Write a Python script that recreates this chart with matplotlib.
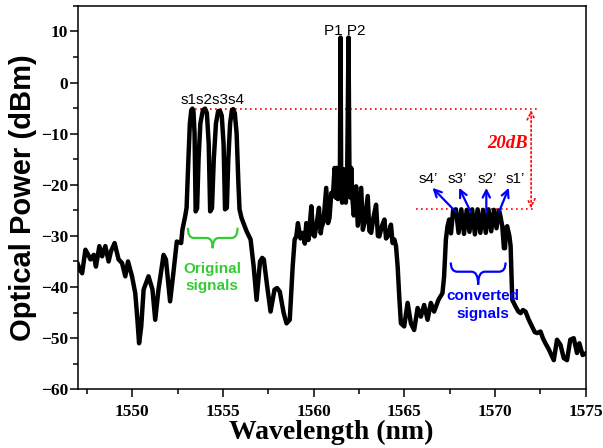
import matplotlib
matplotlib.use("Agg")
import matplotlib.pyplot as plt
from matplotlib.path import Path
from matplotlib.patches import PathPatch
from matplotlib.ticker import MultipleLocator

# spectrum, split into pieces (nm, dBm)
left_wl = [
    1547.0, 1547.1, 1547.24, 1547.42, 1547.55, 1547.70, 1547.88, 1548.0, 1548.19, 1548.34,
    1548.52, 1548.70, 1548.83, 1549.03, 1549.25, 1549.44, 1549.62, 1549.77, 1549.99, 1550.17,
    1550.28, 1550.38, 1550.50, 1550.63, 1550.90, 1551.12, 1551.27, 1551.45, 1551.73, 1551.86,
    1552.09, 1552.27, 1552.46, 1552.70, 1552.77, 1552.92,
]
left_dbm = [
    -35.5, -36.5, -37.3, -32.7, -33.5, -34.6, -33.7, -36.0, -32.0, -34.0,
    -32.0, -35.0, -33.0, -31.4, -34.6, -35.3, -37.9, -35.0, -37.9, -41.2,
    -46.0, -51.0, -47.7, -40.5, -37.9, -40.5, -46.4, -40.5, -33.7, -34.6,
    -42.8, -37.3, -31.1, -31.4, -28.8, -26.2,
]

# original signals s1..s4
signal_wl = [
    1553.00, 1553.10, 1553.18, 1553.26, 1553.32, 1553.38, 1553.44, 1553.50,
    1553.58, 1553.66, 1553.76, 1553.90, 1554.02, 1554.12, 1554.22, 1554.30,
    1554.40, 1554.50, 1554.62, 1554.74, 1554.84, 1554.94, 1555.04, 1555.12,
    1555.22, 1555.30, 1555.40, 1555.50, 1555.57, 1555.66, 1555.76, 1555.86, 1555.92,
]
signal_dbm = [
    -24.5, -15.0, -8.0, -5.4, -5.1, -5.6, -10.0, -25.2,
    -24.6, -15.0, -8.0, -5.4, -5.1, -6.0, -12.0, -25.2,
    -24.6, -15.0, -8.0, -5.6, -5.5, -6.5, -12.0, -24.8,
    -24.5, -15.0, -8.0, -5.4, -5.2, -6.0, -10.0, -20.0, -24.8,
]

gap_wl = [
    1556.03, 1556.31, 1556.53, 1556.70, 1556.86, 1557.05, 1557.17, 1557.26, 1557.45,
    1557.63, 1557.85, 1557.99, 1558.14, 1558.35, 1558.51, 1558.69, 1558.85, 1558.96,
]
gap_dbm = [
    -26.5, -29.1, -30.7, -36.0, -42.5, -35.0, -34.3, -34.6, -40.0,
    -44.8, -40.5, -40.2, -40.9, -45.0, -47.1, -46.4, -36.0, -30.7,
]

# pumps P1, P2 and their skirt
pump_wl = [
    1559.05, 1559.14, 1559.28, 1559.42, 1559.52, 1559.60, 1559.72, 1559.88, 1559.98, 1560.06,
    1560.18, 1560.30, 1560.40, 1560.43, 1560.55, 1560.70, 1560.80, 1560.88, 1560.98, 1561.07,
    1561.16, 1561.22, 1561.28, 1561.34, 1561.40, 1561.45, 1561.49, 1561.53, 1561.58, 1561.63,
    1561.68, 1561.73, 1561.78, 1561.85, 1561.93, 1561.98, 1562.03, 1562.08, 1562.14, 1562.22,
    1562.35, 1562.44, 1562.63, 1562.72, 1562.81, 1562.99, 1563.08, 1563.18, 1563.30, 1563.45,
    1563.55, 1563.63, 1563.78, 1563.91, 1564.0, 1564.09, 1564.27, 1564.36, 1564.46, 1564.55,
]
pump_dbm = [
    -30.1, -27.5, -30.5, -29.4, -31.5, -27.5, -30.8, -24.2, -29.8, -30.1,
    -27.5, -24.5, -29.5, -28.5, -27.2, -20.6, -27.5, -26.5, -21.6, -22.2,
    -16.7, -22.5, -16.7, -22.8, -17.0, -22.0, 8.8, -22.0, -23.5, -17.0,
    -22.5, -17.0, -23.5, -20.0, 8.8, -17.0, -22.5, -16.7, -22.5, -26.0,
    -20.3, -28.0, -20.6, -28.8, -27.5, -22.2, -29.0, -29.4, -26.5, -23.9,
    -30.0, -30.1, -28.0, -26.8, -30.5, -30.1, -27.8, -31.4, -30.7, -32.0,
]

dip_wl = [
    1564.64, 1564.73, 1564.82, 1565.0, 1565.19, 1565.37, 1565.55, 1565.74, 1565.92, 1566.10,
    1566.29, 1566.47, 1566.65, 1566.89, 1567.11, 1567.20, 1567.30, 1567.39, 1567.48, 1567.58,
    1567.70,
]
dip_dbm = [
    -36.0, -42.0, -47.1, -47.7, -43.1, -47.1, -48.4, -44.1, -45.8, -43.5,
    -46.4, -43.1, -44.8, -42.5, -41.2, -38.0, -30.7, -28.1, -26.8, -29.5,
    -25.0,
]

# converted signals (idler ripple)
converted_wl = [
    1567.85, 1568.0, 1568.15, 1568.30, 1568.45, 1568.60, 1568.75, 1568.90, 1569.05, 1569.20,
    1569.35, 1569.50, 1569.65, 1569.80, 1569.95, 1570.09, 1570.23,
]
converted_dbm = [
    -24.8, -29.4, -24.8, -29.6, -24.9, -29.2, -24.8, -29.7, -24.8, -29.4,
    -24.9, -29.4, -24.8, -29.1, -24.9, -28.5, -25.0,
]

right_wl = [
    1570.30, 1570.41, 1570.50, 1570.56, 1570.62, 1570.68, 1570.80, 1570.87, 1570.96, 1571.14,
    1571.30, 1571.42, 1571.55, 1571.69, 1571.87, 1572.05, 1572.20, 1572.33, 1572.52, 1572.65,
    1572.79, 1572.95, 1573.07, 1573.25, 1573.43, 1573.62, 1573.80, 1573.98, 1574.16, 1574.35,
    1574.53, 1574.66, 1574.84, 1575.0,
]
right_dbm = [
    -26.0, -28.1, -32.4, -32.4, -28.5, -28.1, -30.0, -32.0, -42.5, -43.8,
    -44.8, -45.1, -44.5, -44.8, -46.4, -47.7, -48.8, -49.0, -48.7, -50.0,
    -51.0, -52.0, -52.9, -54.3, -50.3, -51.3, -53.9, -54.3, -50.3, -50.0,
    -52.9, -51.0, -53.3, -53.0,
]

signal_level = -5.2
converted_level = -24.8
converted_labels = ["s4\u2019", "s3\u2019", "s2\u2019", "s1\u2019"]
converted_label_x = [1566.3, 1567.9, 1569.6, 1571.1]
converted_peak_x = [1567.85, 1568.67, 1569.53, 1570.23]
arrow_tip_x = [1566.56, 1568.03, 1569.53, 1570.77]

GREEN = "#33cc33"
BLUE = "#0000ff"


def brace(ax, x0, x1, ytop, ymid, ytip, color):
    xm = (x0 + x1) / 2
    dx = (x1 - x0) * 0.12
    verts = [(x0, ytop), (x0, ymid), (x0 + dx, ymid),
             (xm - dx, ymid), (xm, ymid), (xm, ytip),
             (xm, ymid), (xm + dx, ymid),
             (x1 - dx, ymid), (x1, ymid), (x1, ytop)]
    codes = [Path.MOVETO, Path.CURVE3, Path.CURVE3,
             Path.LINETO, Path.CURVE3, Path.CURVE3,
             Path.CURVE3, Path.CURVE3,
             Path.LINETO, Path.CURVE3, Path.CURVE3]
    ax.add_patch(PathPatch(Path(verts, codes), fill=False, color=color, lw=1.6))


wavelength = left_wl + signal_wl + gap_wl + pump_wl + dip_wl + converted_wl + right_wl
power = left_dbm + signal_dbm + gap_dbm + pump_dbm + dip_dbm + converted_dbm + right_dbm

fig = plt.figure(figsize=(6.03, 4.48), dpi=100)
ax = fig.add_axes([0.129, 0.131, 0.842, 0.856])

ax.plot(wavelength, power, color="black", lw=3.2, solid_joinstyle="round", zorder=3)

ax.set_xlim(1547, 1575)
ax.set_ylim(-60, 15)
ax.xaxis.set_major_locator(MultipleLocator(5))
ax.xaxis.set_minor_locator(MultipleLocator(2.5))
ax.yaxis.set_major_locator(MultipleLocator(10))
ax.yaxis.set_minor_locator(MultipleLocator(5))
ax.set_yticks(range(-60, 11, 10))
ax.tick_params(which="major", direction="out", length=5.5, width=1.1)
ax.tick_params(which="minor", direction="out", length=3.5, width=1.1)
ax.tick_params(axis="x", which="major", pad=5)
ax.tick_params(axis="y", which="major", pad=1.5)
for lab in ax.get_xticklabels() + ax.get_yticklabels():
    lab.set_fontfamily("Liberation Serif")
    lab.set_fontweight("bold")
    lab.set_fontsize(12.5)
for sp in ax.spines.values():
    sp.set_linewidth(1.1)

ax.set_xlabel("Wavelength (nm)", fontfamily="Liberation Serif", fontweight="bold",
              fontsize=20, labelpad=0)
ax.set_ylabel("Optical Power (dBm)", fontfamily="Liberation Sans", fontweight="bold",
              fontsize=21, labelpad=3)

# reference levels and 20 dB marker
ax.plot([1553.2, 1572.3], [signal_level, signal_level], color="red", lw=1.2, ls=(0, (1, 2)))
ax.plot([1565.65, 1572.25], [converted_level, converted_level], color="red", lw=1.2, ls=(0, (1, 2)))
ax.annotate("", xy=(1572.0, signal_level - 0.2), xytext=(1572.0, converted_level + 0.2),
            arrowprops=dict(arrowstyle="<->", color="red", lw=1.2, ls=":",
                            mutation_scale=14, shrinkA=0, shrinkB=0))
ax.text(1571.8, -11.9, "20dB", color="red", fontfamily="Liberation Serif",
        fontweight="bold", fontstyle="italic", fontsize=13.5, ha="right", va="center")

# labels
ax.text(1554.43, -3.4, "s1s2s3s4", fontfamily="Liberation Sans", fontsize=11,
        ha="center", va="center")
ax.text(1561.74, 10.0, "P1 P2", fontfamily="Liberation Sans", fontsize=11,
        ha="center", va="center")
for lab, lx, px, tx in zip(converted_labels, converted_label_x, converted_peak_x, arrow_tip_x):
    ax.text(lx, -18.8, lab, fontfamily="Liberation Sans", fontsize=11,
            ha="center", va="center")
    ax.annotate("", xy=(tx, -20.6), xytext=(px, converted_level - 0.5),
                arrowprops=dict(arrowstyle="->", color=BLUE, lw=1.6, mutation_scale=13,
                                shrinkA=0, shrinkB=0), zorder=4)

brace(ax, 1553.07, 1555.81, -28.4, -30.4, -32.4, GREEN)
ax.text(1554.4, -38.1, "Original\nsignals", color=GREEN, fontfamily="Liberation Sans",
        fontweight="bold", fontsize=11, ha="center", va="center", linespacing=1.3)
brace(ax, 1567.57, 1570.59, -35.2, -37.0, -39.5, BLUE)
ax.text(1569.35, -43.5, "converted\nsignals", color=BLUE, fontfamily="Liberation Sans",
        fontweight="bold", fontsize=11, ha="center", va="center", linespacing=1.3)

fig.savefig("out.png", dpi=100)
